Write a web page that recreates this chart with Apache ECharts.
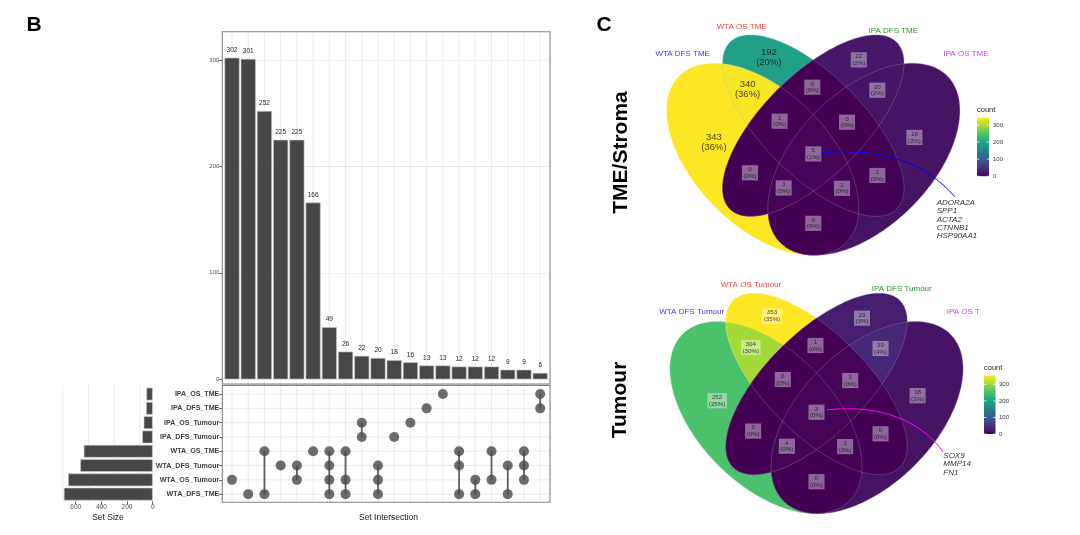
<!DOCTYPE html>
<html><head><meta charset="utf-8">
<script src="https://cdn.jsdelivr.net/npm/echarts@6/dist/echarts.min.js"></script>
<style>html,body{margin:0;padding:0;background:#fff}#c{width:1080px;height:535px}</style>
</head><body><div id="c"></div>
<script>
// ---------------- DATA ----------------
const intersectionCounts = [302,301,252,225,225,166,49,26,22,20,18,16,13,13,12,12,12,9,9,6];
const intersectionMembers = [
  ['WTA_OS_Tumour'],
  ['WTA_DFS_TME'],
  ['WTA_OS_TME','WTA_DFS_TME'],
  ['WTA_DFS_Tumour'],
  ['WTA_DFS_Tumour','WTA_OS_Tumour'],
  ['WTA_OS_TME'],
  ['WTA_OS_TME','WTA_DFS_Tumour','WTA_OS_Tumour','WTA_DFS_TME'],
  ['WTA_OS_TME','WTA_OS_Tumour','WTA_DFS_TME'],
  ['IPA_OS_Tumour','IPA_DFS_Tumour'],
  ['WTA_DFS_Tumour','WTA_OS_Tumour','WTA_DFS_TME'],
  ['IPA_DFS_Tumour'],
  ['IPA_OS_Tumour'],
  ['IPA_DFS_TME'],
  ['IPA_OS_TME'],
  ['WTA_OS_TME','WTA_DFS_Tumour','WTA_DFS_TME'],
  ['WTA_OS_Tumour','WTA_DFS_TME'],
  ['WTA_OS_TME','WTA_OS_Tumour'],
  ['WTA_DFS_Tumour','WTA_DFS_TME'],
  ['WTA_OS_TME','WTA_DFS_Tumour','WTA_OS_Tumour'],
  ['IPA_OS_TME','IPA_DFS_TME']
];
const setNames = ['IPA_OS_TME','IPA_DFS_TME','IPA_OS_Tumour','IPA_DFS_Tumour','WTA_OS_TME','WTA_DFS_Tumour','WTA_OS_Tumour','WTA_DFS_TME'];
const setSizes = [49,51,70,82,537,564,659,692];
const barTicks = [0,100,200,300];
const setSizeTicks = [0,200,400,600];
const setSizeGridBreaks = [100,300,500,700];

const vennRegions = ['A','B','C','D','AB','AC','AD','BC','BD','CD','ABC','ABD','ACD','BCD','ABCD'];
const tmeCounts    = [343,192,22,18,340,0,0,0,1,20,1,2,3,0,5];
const tumourCounts = [252,353,29,18,304,0,0,1,0,39,0,1,4,3,3];
const tmeSetLabels = ['WTA DFS TME','WTA OS TME','IPA DFS TME','IPA OS TME'];
const tumourSetLabels = ['WTA DFS Tumour','WTA OS Tumour','IPA DFS Tumour','IPA OS T'];
const tmeGenes = ['ADORA2A','SPP1','ACTA2','CTNNB1','HSP90AA1'];
const tumourGenes = ['SOX9','MMP14','FN1'];
const legendTicks = [0,100,200,300];

// ---------------- LAYOUT / STYLE ----------------
const FONT = '"Liberation Sans", Arial, Helvetica, sans-serif';
const DARK = '#474747';
const BAR_GRID = {left:223.9, top:31.7, width:324.4, height:347.6};
const MAT_GRID = {left:223.9, top:386.9, width:324.4, height:114.4};
const SIZE_GRID = {left:59.4, top:386.9, width:93.3, height:114.4};
const BAR_PANEL = {x:222.3, y:31.7, width:327.7, height:352.3};
const MAT_PANEL = {x:222.3, y:385.4, width:327.7, height:116.9};
const VENN_TOP = {left:644.8, top:14.4, width:337, height:252.75};
const VENN_BOT = {left:648, top:272.7, width:337, height:252.75};
// canonical 4-set ellipses (cx, cy, a, b, rotation deg)
const ELLIPSES = [[0.35,0.47,0.35,0.20,135],[0.50,0.57,0.35,0.15,135],[0.50,0.57,0.35,0.15,45],[0.65,0.47,0.35,0.20,45]];
const REGION_ANCHOR = {
  A:[0.205,0.52], B:[0.368,0.771], C:[0.635,0.765], D:[0.80,0.535],
  AB:[0.305,0.678], AC:[0.312,0.43], AD:[0.50,0.28], BC:[0.497,0.684], BD:[0.69,0.422], CD:[0.69,0.675],
  ABC:[0.40,0.583], ABD:[0.585,0.384], ACD:[0.412,0.385], BCD:[0.60,0.58], ABCD:[0.50,0.486]
};
const TOP_CURVE = [[0.528,0.490],[0.713,0.504],[0.831,0.459],[0.920,0.359]];
const BOT_CURVE = [[0.530,0.493],[0.688,0.510],[0.807,0.463],[0.876,0.368]];

// ---------------- HELPERS ----------------
const VIR = ['#440154','#482475','#414487','#355F8D','#2A788E','#21918C','#22A884','#44BF70','#7AD151','#BDDF26','#FDE725'];
function hex2rgb(h){return [parseInt(h.slice(1,3),16),parseInt(h.slice(3,5),16),parseInt(h.slice(5,7),16)];}
function viridis(t){
  t=Math.max(0,Math.min(1,t)); const p=t*10; const i=Math.min(9,Math.floor(p)); const f=p-i;
  const a=hex2rgb(VIR[i]), b=hex2rgb(VIR[i+1]);
  return 'rgb('+a.map((v,k)=>Math.round(v+(b[k]-v)*f)).join(',')+')';
}
function ellPoly(e,n){
  const [cx,cy,a,b,deg]=e; const th=deg*Math.PI/180; const pts=[];
  for(let k=0;k<n;k++){const t=2*Math.PI*k/n;
    pts.push([cx+a*Math.cos(t)*Math.cos(th)-b*Math.sin(t)*Math.sin(th), cy+a*Math.cos(t)*Math.sin(th)+b*Math.sin(t)*Math.cos(th)]);}
  return pts;
}
function clipPoly(subj, clip){
  let out=subj;
  for(let i=0;i<clip.length;i++){
    const A=clip[i], B=clip[(i+1)%clip.length];
    const inp=out; out=[]; if(!inp.length) break;
    const side=P=>(B[0]-A[0])*(P[1]-A[1])-(B[1]-A[1])*(P[0]-A[0]);
    for(let j=0;j<inp.length;j++){
      const P=inp[j], Q=inp[(j+1)%inp.length]; const sp=side(P), sq=side(Q);
      if(sp>=0) out.push(P);
      if((sp>=0)!==(sq>=0)){const t=sp/(sp-sq); out.push([P[0]+(Q[0]-P[0])*t, P[1]+(Q[1]-P[1])*t]);}
    }
  }
  return out;
}
const ellPolys = ELLIPSES.map(e=>ellPoly(e,180));
const regionPolys = vennRegions.map(r=>{
  let p=ellPolys['ABCD'.indexOf(r[0])];
  for(let k=1;k<r.length;k++) p=clipPoly(p, ellPolys['ABCD'.indexOf(r[k])]);
  return p;
});

function vennSeries(ax, counts, bigMin, curve, curveColor){
  const max=Math.max(...counts); const total=counts.reduce((a,b)=>a+b,0);
  const colors=counts.map(c=>viridis(c/max));
  const small=[], big=[];
  vennRegions.forEach((r,i)=>{const a=REGION_ANCHOR[r];
    const item=[a[0],a[1],counts[i],Math.round(counts[i]/total*100)];
    (counts[i]>=bigMin?big:small).push(item);});
  const lbl = (fs,lh,box)=>({show:true, position:'inside', formatter:p=>p.data[2]+'\n('+p.data[3]+'%)',
    fontSize:fs, lineHeight:lh, color:'#111', fontFamily:FONT, align:'center',
    backgroundColor: box?'rgba(255,255,255,0.5)':'transparent', padding: box?[1.3,1.5,0.3,1.5]:0});
  return [
    {type:'custom', xAxisIndex:ax, yAxisIndex:ax, z:1, silent:true, data:vennRegions.map((_,i)=>[i]),
      renderItem:(params,api)=>{const i=params.dataIndex;
        return {type:'polygon', shape:{points:regionPolys[i].map(p=>api.coord(p))}, style:{fill:colors[i], stroke:colors[i], lineWidth:0.2}};}},
    {type:'custom', xAxisIndex:ax, yAxisIndex:ax, z:2, silent:true, data:ELLIPSES.map((_,i)=>[i]),
      renderItem:(params,api)=>({type:'polygon', shape:{points:ellPolys[params.dataIndex].map(p=>api.coord(p))},
        style:{fill:'none', stroke:'rgba(255,255,255,0.3)', lineWidth:0.6}})},
    {type:'custom', xAxisIndex:ax, yAxisIndex:ax, z:3, silent:true, data:[[0]],
      renderItem:(params,api)=>{const q=curve.map(p=>api.coord(p));
        return {type:'bezierCurve', shape:{x1:q[0][0],y1:q[0][1],cpx1:q[1][0],cpy1:q[1][1],cpx2:q[2][0],cpy2:q[2][1],x2:q[3][0],y2:q[3][1]},
          style:{stroke:curveColor, lineWidth:1, fill:'none'}};}},
    {type:'scatter', xAxisIndex:ax, yAxisIndex:ax, z:4, silent:true, symbolSize:1, itemStyle:{color:'rgba(0,0,0,0)'},
      data:small, label:lbl(6.2,6.8,true)},
    {type:'scatter', xAxisIndex:ax, yAxisIndex:ax, z:4, silent:true, symbolSize:1, itemStyle:{color:'rgba(0,0,0,0)'},
      data:big, label:lbl(9.5,10,false)}
  ];
}

function colorbar(x, bottom, w, h, max, labelX, titleX, titleY){
  const stops = VIR.map((c,i)=>({offset:i/10, color:c}));
  const els = [
    {type:'text', x:titleX, y:titleY, style:{text:'count', font:'7.5px '+FONT, fill:'#222', align:'left', verticalAlign:'middle'}},
    {type:'rect', shape:{x:x, y:bottom-h, width:w, height:h}, style:{fill:new echarts.graphic.LinearGradient(0,1,0,0,stops)}}
  ];
  legendTicks.forEach(v=>{
    const y=bottom-v/max*h;
    els.push({type:'line', shape:{x1:x,y1:y,x2:x+2.4,y2:y}, style:{stroke:'#fff', lineWidth:0.8}});
    els.push({type:'line', shape:{x1:x+w-2.4,y1:y,x2:x+w,y2:y}, style:{stroke:'#fff', lineWidth:0.8}});
    els.push({type:'text', x:labelX, y:y, style:{text:String(v), font:'6px '+FONT, fill:'#333', align:'left', verticalAlign:'middle'}});
  });
  return els;
}

// ---------------- SERIES ----------------
const catIdx = intersectionCounts.map((_,i)=>String(i+1));
const dots=[], segs=[];
intersectionMembers.forEach((m,c)=>{
  const rows=m.map(n=>setNames.indexOf(n));
  rows.forEach(r=>dots.push([c,r]));
  if(rows.length>1) segs.push([c,Math.min(...rows),Math.max(...rows)]);
});

const series = [
  {type:'custom', xAxisIndex:0, yAxisIndex:0, z:0, silent:true, data:intersectionCounts.map((_,i)=>[i,0]),
    renderItem:(params,api)=>{const x=api.coord([api.value(0),0])[0];
      return {type:'line', shape:{x1:x,y1:BAR_PANEL.y,x2:x,y2:BAR_PANEL.y+BAR_PANEL.height}, style:{stroke:'#ebebeb', lineWidth:1}};}},
  {type:'bar', xAxisIndex:0, yAxisIndex:0, z:2, data:intersectionCounts, barWidth:15, silent:true,
    itemStyle:{color:DARK, borderColor:'#c8c8c8', borderWidth:0.6},
    label:{show:true, position:'top', distance:4, fontSize:6.5, color:'#222', fontFamily:FONT}},
  {type:'custom', xAxisIndex:1, yAxisIndex:1, z:0, silent:true, data:intersectionCounts.map((_,i)=>[i,0]),
    renderItem:(params,api)=>{const x=api.coord([api.value(0),0])[0];
      return {type:'line', shape:{x1:x,y1:MAT_PANEL.y,x2:x,y2:MAT_PANEL.y+MAT_PANEL.height}, style:{stroke:'#ebebeb', lineWidth:1}};}},
  {type:'custom', xAxisIndex:1, yAxisIndex:1, z:0, silent:true, data:setNames.map((_,r)=>[0,r]),
    renderItem:(params,api)=>{const y=api.coord([0,api.value(1)])[1];
      return {type:'line', shape:{x1:MAT_PANEL.x,y1:y,x2:MAT_PANEL.x+MAT_PANEL.width,y2:y}, style:{stroke:'#ebebeb', lineWidth:1}};}},
  {type:'custom', xAxisIndex:1, yAxisIndex:1, z:2, silent:true, data:segs,
    renderItem:(params,api)=>{const a=api.coord([api.value(0),api.value(1)]), b=api.coord([api.value(0),api.value(2)]);
      return {type:'line', shape:{x1:a[0],y1:a[1],x2:b[0],y2:b[1]}, style:{stroke:'#5e5e5e', lineWidth:1.8}};}},
  {type:'scatter', xAxisIndex:1, yAxisIndex:1, z:3, silent:true, data:dots, symbolSize:10, itemStyle:{color:DARK}},
  {type:'custom', xAxisIndex:2, yAxisIndex:2, z:0, silent:true, data:setSizeGridBreaks.map(v=>[v,0]),
    renderItem:(params,api)=>{const x=api.coord([api.value(0),0])[0]; const cs=params.coordSys;
      return {type:'line', shape:{x1:x,y1:cs.y-2,x2:x,y2:cs.y+cs.height+1}, style:{stroke:'#ebebeb', lineWidth:1}};}},
  {type:'bar', xAxisIndex:2, yAxisIndex:2, z:2, silent:true, data:setSizes, barWidth:12.7,
    itemStyle:{color:DARK, borderColor:'#c8c8c8', borderWidth:0.6}},
  ...vennSeries(3, tmeCounts, 100, TOP_CURVE, '#0000ff'),
  ...vennSeries(4, tumourCounts, Infinity, BOT_CURVE, '#ff00ff')
];

// ---------------- GRAPHIC ----------------
const txt = (x,y,text,font,fill,align,extra)=>Object.assign({type:'text', x:x, y:y, z:20,
  style:{text:text, font:font, fill:fill||'#000', align:align||'center', verticalAlign:'middle'}}, extra||{});
const setColors = ['#3636ff','#ff3b3b','#2f8f2f','#c840f5'];
const graphic = [
  {type:'rect', z:10, shape:BAR_PANEL, style:{fill:'none', stroke:'#808080', lineWidth:1.1}},
  {type:'rect', z:10, shape:MAT_PANEL, style:{fill:'none', stroke:'#808080', lineWidth:1.1}},
  txt(34,25,'B','bold 21px '+FONT),
  txt(604,25,'C','bold 21px '+FONT),
  txt(621,152.5,'TME/Stroma','bold 21px '+FONT,'#000','center',{rotation:Math.PI/2}),
  txt(620,400,'Tumour','bold 21px '+FONT,'#000','center',{rotation:Math.PI/2}),
  txt(108,517.7,'Set Size','8.5px '+FONT,'#111'),
  txt(388.5,517.7,'Set Intersection','8.5px '+FONT,'#111'),
  txt(682.7,54,tmeSetLabels[0],'8px '+FONT,setColors[0]),
  txt(741.7,26.7,tmeSetLabels[1],'8px '+FONT,setColors[1]),
  txt(893.3,30.7,tmeSetLabels[2],'8px '+FONT,setColors[2]),
  txt(966,54,tmeSetLabels[3],'8px '+FONT,setColors[3]),
  txt(691.7,311.7,tumourSetLabels[0],'8px '+FONT,setColors[0]),
  txt(751,285,tumourSetLabels[1],'8px '+FONT,setColors[1]),
  txt(901.7,288.3,tumourSetLabels[2],'8px '+FONT,setColors[2]),
  txt(946.7,311.7,tumourSetLabels[3],'8px '+FONT,setColors[3],'left'),
  ...tmeGenes.map((g,i)=>txt(936.7,202.7+i*8.3,g,'italic 8px '+FONT,'#333','left')),
  ...tumourGenes.map((g,i)=>txt(943.3,455.7+i*8.3,g,'italic 8px '+FONT,'#333','left')),
  ...colorbar(977,176.2,12,58.5,Math.max(...tmeCounts),993,977,110),
  ...colorbar(984,434,11.5,58.5,Math.max(...tumourCounts),999,984,368.3)
];

const hiddenCat = (gi,data)=>({type:'category', gridIndex:gi, data:data, axisLine:{show:false}, axisTick:{show:false}, axisLabel:{show:false}, splitLine:{show:false}});
const hiddenVal = (gi,min,max)=>({type:'value', gridIndex:gi, min:min, max:max, show:false});

const option = {
  animation:false, backgroundColor:'#fff',
  textStyle:{fontFamily:FONT},
  grid:[BAR_GRID, MAT_GRID, SIZE_GRID, VENN_TOP, VENN_BOT].map(g=>Object.assign({containLabel:false, show:false}, g)),
  xAxis:[
    hiddenCat(0,catIdx),
    hiddenCat(1,catIdx),
    {type:'value', gridIndex:2, inverse:true, min:0, max:727, interval:100,
      axisLine:{show:false}, splitLine:{show:false},
      axisTick:{show:true, length:3, customValues:setSizeTicks, lineStyle:{color:'#333', width:0.8}},
      axisLabel:{show:true, customValues:setSizeTicks, fontSize:6.5, color:'#4d4d4d', margin:2.5, fontFamily:FONT}},
    hiddenVal(3,0,1),
    hiddenVal(4,0,1)
  ],
  yAxis:[
    {type:'value', gridIndex:0, min:0, max:326.5, interval:50, offset:1.6,
      axisLine:{show:false},
      axisTick:{show:true, length:3, customValues:barTicks, lineStyle:{color:'#333', width:0.8}},
      axisLabel:{show:true, customValues:barTicks, fontSize:6, color:'#4d4d4d', margin:3, fontFamily:FONT},
      splitLine:{show:true, lineStyle:{color:['#e6e6e6','#f2f2f2'], width:1}}},
    {type:'category', gridIndex:1, data:setNames, inverse:true, offset:1.6,
      axisLine:{show:false}, splitLine:{show:false},
      axisTick:{show:true, alignWithLabel:true, length:3, lineStyle:{color:'#333', width:0.8}},
      axisLabel:{show:true, fontSize:7.1, fontWeight:'bold', color:'#3c3c3c', margin:3, fontFamily:FONT}},
    Object.assign(hiddenCat(2,setNames),{inverse:true}),
    hiddenVal(3,0.15,0.9),
    hiddenVal(4,0.15,0.9)
  ],
  series: series,
  graphic: graphic
};
const chart = echarts.init(document.getElementById('c'), null, {renderer:'canvas'});
chart.setOption(option);
</script></body></html>
